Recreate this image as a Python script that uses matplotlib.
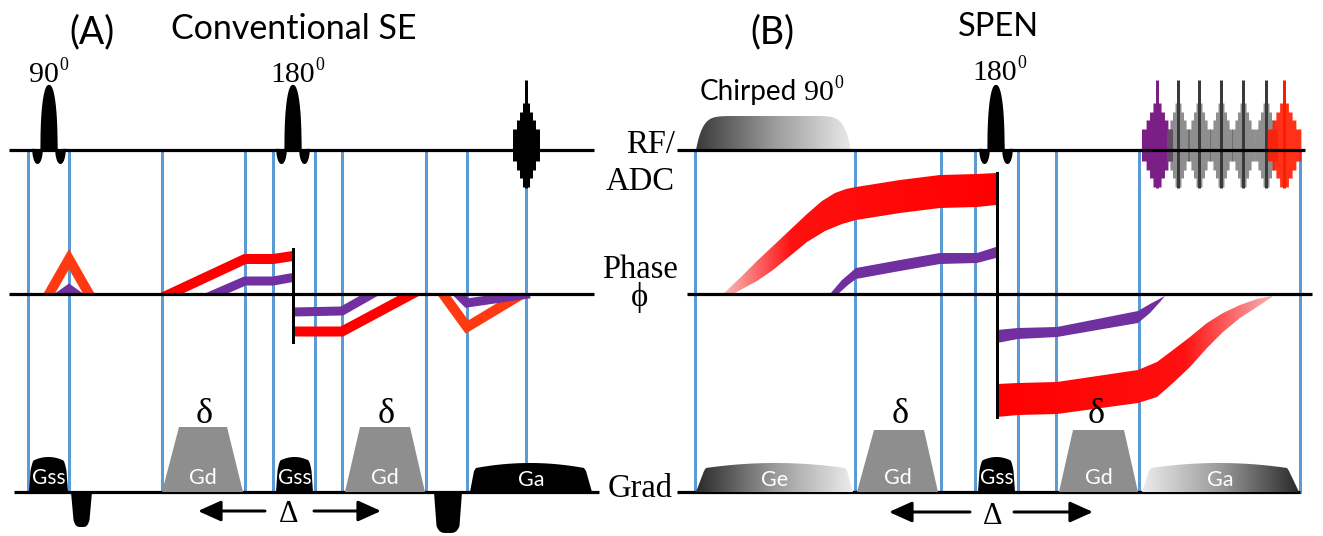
import numpy as np
import matplotlib
matplotlib.use("Agg")
import matplotlib.pyplot as plt
from matplotlib.patches import Polygon, Rectangle
from matplotlib.colors import LinearSegmentedColormap

# ------------------------------------------------------------------ data
W, H = 1323, 536
Y_RF, Y_PH, Y_GR = 150, 294, 492

# panel A : conventional spin echo
A_rf_span = (9, 594)
A_ph_span = (9, 594)
A_gr_span = (14, 599)
A_guides = [28, 69, 162, 245, 273, 315, 342, 426, 467, 526]
A_sinc_centres = [49, 293]
A_sinc_labels = ["90", "180"]
A_echo_centre = 526
A_red_paths = [
    [(49, 294), (69, 259), (89, 294)],
    [(170, 294), (245, 259), (273, 259), (293, 256)],
    [(293, 331.5), (342, 331.5), (412, 294)],
    [(443, 294), (467, 327), (522, 294)],
]
A_red_colors = ["#ff3a12", "#ff0000", "#ff0000", "#ff3a12"]
A_pur_paths = [
    [(62, 294), (69, 289), (76, 294)],
    [(215, 294), (245, 281), (273, 281), (293, 277.5)],
    [(293, 312), (342, 311), (372, 294)],
    [(458, 294), (467, 303), (522, 295)],
]
A_flip = (293, 249, 342)
A_gss = [(29, 68), (276, 313)]
A_gss_labels = ["Gss", "Gss"]
A_gd = [(162, 243, 179, 227), (345, 425, 360, 410)]
A_gd_labels = ["Gd", "Gd"]
A_neg = [(71, 92, 527), (434, 462, 533)]
A_ga = (470, 592, 476, 584)
A_delta_x = [204, 386]
A_Delta = (289, 265, 198, 314, 381)

# panel B : SPEN
B_rf_span = (677, 1305)
B_ph_span = (687, 1312)
B_gr_span = (677, 1300)
B_guides = [695, 855, 941, 975, 1018, 1056, 1139, 1300]
B_sinc_centre = 996
B_chirp = (696, 851)
B_echo_purple = 1157
B_echo_gray = [1178, 1199, 1221, 1243, 1266]
B_echo_red = 1284
B_flip = (997, 173, 417)
B_red1_top = ([723, 740, 757, 773, 790, 807, 822, 835, 846, 856, 900, 940, 977, 996],
              [294, 278, 261, 246, 230, 214, 201, 193, 189, 187, 180, 175, 174, 173])
B_red1_bot = ([733, 757, 773, 790, 807, 825, 842, 856, 900, 940, 977, 996],
              [294, 281, 270, 256, 242, 231, 224, 220, 213, 208, 207, 205])
B_pur1_top = ([830, 842, 856, 900, 940, 977, 996],
              [294, 280, 268, 260, 253, 253, 247])
B_pur1_bot = ([838, 848, 856, 900, 940, 977, 996],
              [294, 285, 279, 271, 264, 263, 258])
B_pur2_top = ([997, 1018, 1057, 1138, 1150, 1165],
              [330, 328, 327, 311, 304, 296])
B_pur2_bot = ([997, 1018, 1057, 1138, 1150, 1160, 1165],
              [343, 339, 337, 323, 313, 302, 296])
B_red2_top = ([997, 1018, 1057, 1138, 1157, 1173, 1190, 1207, 1223, 1240, 1257, 1272],
              [384, 383, 382, 370, 362, 350, 337, 323, 313, 305, 299, 296])
B_red2_bot = ([997, 1018, 1057, 1138, 1157, 1173, 1190, 1207, 1223, 1240, 1257, 1272],
              [417, 415, 414, 403, 397, 383, 367, 348, 332, 318, 307, 297])
B_ge = (696, 853, 706, 845)
B_gd = [(857, 938, 874, 924), (1059, 1138, 1073, 1124)]
B_gss = (978, 1015)
B_ga = (1142, 1299, 1151, 1287)
B_delta_x = [900, 1096]
B_Delta = (993, 970, 889, 1014, 1093)

# ------------------------------------------------------------------ style
BLUE = "#5b9bd5"
PURPLE = "#7030a0"
RED = "#ff0000"
GRAY = "#8e8e8e"
SANS = "Lato"
SERIF = ["Liberation Serif", "DejaVu Serif"]
PX = 72.0 / 100.0  # points per pixel
LABEL_FS = 15.5

fig = plt.figure(figsize=(W / 100, H / 100), dpi=100)
ax = fig.add_axes([0, 0, 1, 1])
ax.set_xlim(0, W)
ax.set_ylim(H, 0)
ax.axis("off")


def hline(span, y, lw=3.2, z=6):
    ax.plot(span, [y, y], color="k", lw=lw * PX, zorder=z, solid_capstyle="butt")


def guides(xs, z=3):
    for x in xs:
        ax.plot([x, x], [Y_RF, Y_GR], color=BLUE, lw=3.0 * PX, zorder=z)


def sinc_pulse(xc, h=64, half=7.4):
    t = np.linspace(-2.1, 2.1, 800)
    a = np.abs(t)
    s = np.where(a <= 1, np.clip(1 - a ** 2, 0, 1) ** 0.42,
                 -0.2 * np.clip(np.sin(np.pi * (a - 1) / 1.1), 0, 1) ** 0.5)
    y = Y_RF - h * s
    x = xc + t * half
    ax.fill_between(x, Y_RF, y, color="k", lw=0, zorder=7)
    ax.plot(x, y, color="k", lw=2.4 * PX, zorder=7)


def echo(xc, color, xs=1.0, alpha=1.0, spike=None, z=8):
    yc = 145
    dx = np.linspace(-14 * xs, 14 * xs, 800)
    a = np.abs(dx) / xs
    hh = np.select([a < 3.5, a < 6.5, a < 9.5, a < 13.5], [42, 33, 25, 16], 0)
    ax.fill_between(xc + dx, yc - hh, yc + hh, color=color, alpha=alpha, lw=0, zorder=z)
    ax.plot([xc, xc], [80, 188], color=spike or color, lw=3.0 * PX, zorder=z + 0.1,
            solid_capstyle="butt")


def grad_poly(verts, stops, x0, x1, z):
    poly = Polygon(verts, closed=True, facecolor="none", edgecolor="none", zorder=z)
    ax.add_patch(poly)
    cmap = LinearSegmentedColormap.from_list("g", stops)
    ys = [v[1] for v in verts]
    im = ax.imshow(np.linspace(0, 1, 512).reshape(1, -1), cmap=cmap, aspect="auto",
                   extent=[x0, x1, max(ys) + 1, min(ys) - 1], zorder=z,
                   interpolation="bilinear")
    im.set_clip_path(poly)


def band(top, bot):
    xt, yt = top
    xb, yb = bot
    return list(zip(xt, yt)) + list(zip(xb[::-1], yb[::-1]))


def trapezoid(b0, b1, t0, t1, ytop, color, z=9):
    ax.add_patch(Polygon([(b0, Y_GR), (t0, ytop), (t1, ytop), (b1, Y_GR)],
                         closed=True, facecolor=color, edgecolor="none", zorder=z))


def domed(b0, b1, t0, t1, ysh=468, ydome=463, n=60):
    xs = np.linspace(t0, t1, n)
    u = (xs - (t0 + t1) / 2) / ((t1 - t0) / 2)
    ys = ysh - (ysh - ydome) * (1 - u ** 2)
    pts = [(b0, Y_GR), (t0 - 2, ysh + 3)]
    pts += list(zip(xs, ys))
    pts += [(t1 + 2, ysh + 3), (b1, Y_GR)]
    return pts


def gss_block(x0, x1, label, z=9):
    xs = np.linspace(x0 + 1.5, x1 - 1.5, 80)
    u = (xs - (x0 + x1) / 2) / ((x1 - x0) / 2 - 1.5)
    ys = 462 - 5 * (1 - u ** 2) + 9 * np.clip((np.abs(u) - 0.8) / 0.2, 0, 1) ** 2
    pts = [(x0, Y_GR)] + list(zip(xs, ys)) + [(x1, Y_GR)]
    ax.add_patch(Polygon(pts, closed=True, facecolor="k", edgecolor="none", zorder=z))
    ax.text((x0 + x1) / 2, 484, label, color="white", fontsize=LABEL_FS - 0.5,
            family=SANS, ha="center", va="baseline", zorder=z + 1)


def neg_lobe(x0, x1, yb, z=9):
    v = np.linspace(-1, 1, 40)
    xs = (x0 + x1) / 2 + v * ((x1 - x0) / 2 - 2.5)
    ys = yb - 7 * np.abs(v) ** 4
    pts = [(x0, Y_GR)] + list(zip(xs, ys)) + [(x1, Y_GR)]
    ax.add_patch(Polygon(pts, closed=True, facecolor="k", edgecolor="none", zorder=z))


def extend(pts, d=8):
    p = np.array(pts, float)
    for i, j in ((0, 1), (-1, -2)):
        if abs(p[i, 1] - Y_PH) < 1.5:
            v = p[i] - p[j]
            p[i] = p[i] + v / np.hypot(*v) * d
    return p


def phase_path(pts, color, lw):
    p = extend(pts)
    above = np.mean([q[1] for q in pts]) < Y_PH
    clip = Rectangle((0, 0 if above else Y_PH), W, Y_PH if above else H - Y_PH,
                     transform=ax.transData)
    ln, = ax.plot(p[:, 0], p[:, 1], color=color, lw=lw * PX, zorder=4,
                  solid_joinstyle="miter", solid_capstyle="butt")
    ln.set_clip_path(clip)


def arrow(x0, x1, y):
    ax.annotate("", xy=(x1, y), xytext=(x0, y), zorder=10,
                arrowprops=dict(arrowstyle="-|>,head_length=1.0,head_width=0.45",
                                lw=3.0 * PX, color="k", shrinkA=0, shrinkB=0,
                                mutation_scale=14))


def deg_text(xl, yb, main, size, family=SERIF):
    t = ax.text(xl, yb, main, fontsize=size, family=family, ha="left", va="baseline",
                zorder=10)
    r = fig.canvas.get_renderer()
    bb = t.get_window_extent(r)
    xe = ax.transData.inverted().transform((bb.x1, bb.y0))[0]
    ax.text(xe + 0.5, yb - 0.40 * size / PX, "0", fontsize=size * 0.6, family=family,
            ha="left", va="baseline", zorder=10)
    return xe


# ------------------------------------------------------------------ axes lines
hline(A_rf_span, Y_RF)
hline(A_ph_span, Y_PH)
hline(A_gr_span, Y_GR)
hline(B_rf_span, Y_RF, z=9)
hline(B_ph_span, Y_PH)
hline(B_gr_span, Y_GR)
guides(A_guides)
guides(B_guides)

# ------------------------------------------------------------------ panel A
for xc in A_sinc_centres:
    sinc_pulse(xc)
echo(A_echo_centre, "k")

for pts, c in zip(A_red_paths, A_red_colors):
    phase_path(pts, c, 10)
for pts in A_pur_paths:
    phase_path(pts, PURPLE, 9)
ax.plot([A_flip[0]] * 2, A_flip[1:], color="k", lw=3.0 * PX, zorder=5)

for (x0, x1), lab in zip(A_gss, A_gss_labels):
    gss_block(x0, x1, lab)
for (b0, b1, t0, t1), lab in zip(A_gd, A_gd_labels):
    trapezoid(b0, b1, t0, t1, 427, GRAY)
    ax.text((b0 + b1) / 2, 484, lab, color="white", fontsize=LABEL_FS, family=SANS,
            ha="center", va="baseline", zorder=10)
for x0, x1, yb in A_neg:
    neg_lobe(x0, x1, yb)
ax.add_patch(Polygon(domed(*A_ga), closed=True, facecolor="k", edgecolor="none", zorder=9))
ax.text((A_ga[0] + A_ga[1]) / 2, 486, "Ga", color="white", fontsize=LABEL_FS, family=SANS,
        ha="center", va="baseline", zorder=10)
for x in A_delta_x:
    ax.text(x, 423, "δ", fontsize=26, family=SERIF, ha="center", va="baseline", zorder=10)
ax.text(A_Delta[0], 522, "Δ", fontsize=22, family=SERIF, ha="center", va="baseline",
        zorder=10)
arrow(A_Delta[1], A_Delta[2], 511)
arrow(A_Delta[3], A_Delta[4], 511)

ax.text(92, 43, "(A)", fontsize=27, family=SANS, ha="center", va="baseline")
ax.text(294, 39, "Conventional SE", fontsize=24.5, family=SANS, ha="center",
        va="baseline")
deg_text(29, 82, A_sinc_labels[0], 21.5)
deg_text(270, 82, A_sinc_labels[1], 21.5)

# ------------------------------------------------------------------ middle labels
ax.text(651, 153, "RF/", fontsize=23.5, family=SERIF, ha="center", va="baseline")
ax.text(640, 190, "ADC", fontsize=23.5, family=SERIF, ha="center", va="baseline")
ax.text(640, 278, "Phase", fontsize=23.5, family=SERIF, ha="center", va="baseline")
ax.text(640, 306, "ϕ", fontsize=23.5, family=SERIF, ha="center", va="baseline")
ax.text(640, 497, "Grad", fontsize=23.5, family=SERIF, ha="center", va="baseline")

# ------------------------------------------------------------------ panel B
cx = np.linspace(*B_chirp, 200)
u = (cx - (B_chirp[0] + B_chirp[1]) / 2) / ((B_chirp[1] - B_chirp[0]) / 2)
cy = Y_RF - 34 * (1 - np.abs(u) ** 12)
grad_poly(list(zip(cx, cy)), ["#3a3a3a", "#9a9a9a", "#e9e9e9"], B_chirp[0], B_chirp[1], 7)
sinc_pulse(B_sinc_centre)

echo(B_echo_purple, "#7b1f86", xs=1.15, spike="#7b1f86", z=8)
for x in B_echo_gray:
    echo(x, "#5e5e5e", xs=0.85, alpha=0.7, spike="#3a3a3a", z=8.2)
echo(B_echo_red, "#ff1a00", xs=1.25, alpha=0.9, spike="#ff1a00", z=8.4)

grad_poly(band(B_red1_top, B_red1_bot), [(0, "#f7bcbc"), (0.25, "#ff1010"), (1, RED)],
          723, 996, 4)
ax.add_patch(Polygon(band(B_pur1_top, B_pur1_bot), closed=True, facecolor=PURPLE,
                     edgecolor="none", zorder=4))
ax.add_patch(Polygon(band(B_pur2_top, B_pur2_bot), closed=True, facecolor=PURPLE,
                     edgecolor="none", zorder=4))
grad_poly(band(B_red2_top, B_red2_bot), [(0, RED), (0.68, "#ff1010"), (1, "#f7b0b0")],
          997, 1272, 4)
ax.plot([B_flip[0]] * 2, B_flip[1:], color="k", lw=3.0 * PX, zorder=5)

grad_poly(domed(*B_ge), ["#2a2a2a", "#9a9a9a", "#ececec"], B_ge[0], B_ge[1], 9)
ax.text((B_ge[0] + B_ge[1]) / 2, 486, "Ge", color="white", fontsize=LABEL_FS, family=SANS,
        ha="center", va="baseline", zorder=10)
for b0, b1, t0, t1 in B_gd:
    trapezoid(b0, b1, t0, t1, 430, GRAY)
    ax.text((b0 + b1) / 2, 484, "Gd", color="white", fontsize=LABEL_FS, family=SANS,
            ha="center", va="baseline", zorder=10)
gss_block(*B_gss, "Gss")
grad_poly(domed(*B_ga), ["#ececec", "#9a9a9a", "#2a2a2a"], B_ga[0], B_ga[1], 9)
ax.text((B_ga[0] + B_ga[1]) / 2, 486, "Ga", color="white", fontsize=LABEL_FS, family=SANS,
        ha="center", va="baseline", zorder=10)
for x in B_delta_x:
    ax.text(x, 423, "δ", fontsize=26, family=SERIF, ha="center", va="baseline", zorder=10)
ax.text(B_Delta[0], 524, "Δ", fontsize=22, family=SERIF, ha="center", va="baseline",
        zorder=10)
arrow(B_Delta[1], B_Delta[2], 512)
arrow(B_Delta[3], B_Delta[4], 512)

ax.text(772, 43, "(B)", fontsize=27, family=SANS, ha="center", va="baseline")
ax.text(998, 36, "SPEN", fontsize=23.5, family=SANS, ha="center", va="baseline")
deg_text(972, 80, "180", 21.5)
t = ax.text(700, 100, "Chirped", fontsize=20, family=SANS, ha="left", va="baseline")
bb = t.get_window_extent(fig.canvas.get_renderer())
xe = ax.transData.inverted().transform((bb.x1, bb.y0))[0]
deg_text(xe + 7, 100, "90", 21.5)

ax.set_xlim(0, W)
ax.set_ylim(H, 0)
fig.savefig("out.png", dpi=100)
